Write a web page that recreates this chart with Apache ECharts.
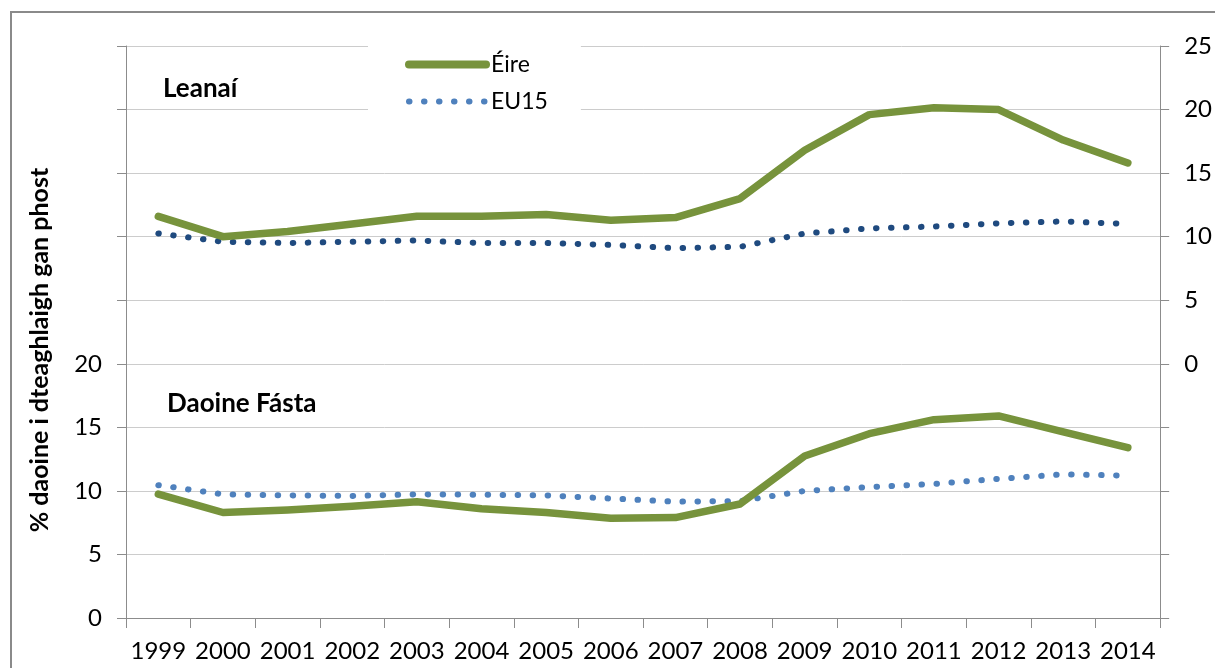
<!DOCTYPE html>
<html>
<head>
<meta charset="utf-8">
<script src="https://cdn.jsdelivr.net/npm/echarts@6/dist/echarts.min.js"></script>
<style>
  html, body { margin: 0; padding: 0; background: #fff; }
  #chart { width: 1215px; height: 668px; }
</style>
</head>
<body>
<div id="chart"></div>
<script>
// years on the shared x axis
const years = ['1999', '2000', '2001', '2002', '2003', '2004', '2005', '2006',
  '2007', '2008', '2009', '2010', '2011', '2012', '2013', '2014'];

// Leanaí panel (read against the right axis)
const leanaiEire = [11.6, 10.0, 10.4, 11.0, 11.6, 11.6, 11.75, 11.3,
  11.5, 13.0, 16.8, 19.6, 20.15, 20.0, 17.6, 15.8];
const leanaiEU15 = [10.25, 9.6, 9.5, 9.6, 9.7, 9.5, 9.5, 9.35,
  9.1, 9.2, 10.25, 10.65, 10.8, 11.05, 11.2, 11.0];

// Daoine Fásta panel (read against the left axis)
const daoineEire = [9.75, 8.3, 8.5, 8.8, 9.15, 8.6, 8.3, 7.85,
  7.9, 8.97, 12.75, 14.5, 15.6, 15.9, 14.65, 13.4];
const daoineEU15 = [10.45, 9.73, 9.65, 9.6, 9.73, 9.7, 9.65, 9.4,
  9.15, 9.2, 10.0, 10.3, 10.55, 10.95, 11.3, 11.2];

const FONT = 'Lato';
const GREEN = '#77933c';
const NAVY = '#1f4a7f';
const LIGHT_BLUE = '#4f81bd';
const AXIS_GREY = '#8c8c8c';

const chart = echarts.init(document.getElementById('chart'));

const dotted = color => ({ color: color, width: 6, type: [0.5, 14.5], cap: 'round' });
const solid = { color: GREEN, width: 7.5, cap: 'round', join: 'round' };

chart.setOption({
  animation: false,
  textStyle: { fontFamily: FONT },
  grid: { left: 126, right: 51, top: 46, bottom: 50 },
  title: [
    { text: 'Leanaí', left: 158, top: 71,
      textStyle: { fontFamily: FONT, fontSize: 26, fontWeight: 'bold', color: '#000' } },
    { text: 'Daoine Fásta', left: 162, top: 386,
      textStyle: { fontFamily: FONT, fontSize: 26, fontWeight: 'bold', color: '#000' } }
  ],
  legend: {
    orient: 'vertical',
    left: 368,
    top: 40,
    padding: [13, 33, 11, 37],
    backgroundColor: '#fff',
    itemWidth: 77,
    itemHeight: 22,
    itemGap: 14,
    itemStyle: { opacity: 0 },
    textStyle: { fontFamily: FONT, fontSize: 23, lineHeight: 22, color: '#000' },
    data: [
      { name: 'Éire', lineStyle: { color: GREEN, width: 8, cap: 'round' } },
      { name: 'EU15', lineStyle: { color: LIGHT_BLUE, width: 6, type: [0.5, 14.5], cap: 'round' } }
    ]
  },
  graphic: [
    { type: 'rect', shape: { x: 11, y: 12, width: 1400, height: 900 },
      style: { fill: 'none', stroke: '#8a8a8a', lineWidth: 2 }, silent: true },
    { type: 'text', x: 40, y: 350, rotation: Math.PI / 2,
      style: { text: '% daoine i dteaghlaigh gan phost', fontFamily: FONT,
        fontSize: 25, fontWeight: 'bold', fill: '#000', align: 'center', verticalAlign: 'middle' } }
  ],
  xAxis: {
    type: 'category',
    data: years,
    boundaryGap: true,
    axisLine: { lineStyle: { color: AXIS_GREY, width: 1 } },
    axisTick: { show: true, length: 10, lineStyle: { color: AXIS_GREY } },
    axisLabel: { interval: 0, margin: 21, fontSize: 24, color: '#000', fontFamily: FONT },
    splitLine: { show: false }
  },
  yAxis: [
    {
      type: 'value', position: 'left', min: 0, max: 45, interval: 5,
      axisLine: { show: true, lineStyle: { color: AXIS_GREY } },
      axisTick: { show: true, length: 9, lineStyle: { color: AXIS_GREY } },
      axisLabel: { margin: 24, fontSize: 24, color: '#000', fontFamily: FONT,
        formatter: v => (v <= 20 ? String(v) : '') },
      splitLine: { show: true, lineStyle: { color: '#cccccc', width: 1 } }
    },
    {
      type: 'value', position: 'right', min: -20, max: 25, interval: 5,
      axisLine: { show: true, lineStyle: { color: AXIS_GREY } },
      axisTick: { show: true, length: 9, lineStyle: { color: AXIS_GREY } },
      axisLabel: { margin: 24, fontSize: 24, color: '#000', fontFamily: FONT,
        formatter: v => (v >= 0 ? String(v) : '') },
      splitLine: { show: false }
    }
  ],
  series: [
    { name: 'Éire', type: 'line', yAxisIndex: 0, data: daoineEire,
      symbol: 'none', lineStyle: solid, itemStyle: { color: GREEN }, z: 3 },
    { name: 'EU15', type: 'line', yAxisIndex: 0, data: daoineEU15,
      symbol: 'none', lineStyle: dotted(LIGHT_BLUE), itemStyle: { color: LIGHT_BLUE }, z: 2 },
    { name: 'Éire', type: 'line', yAxisIndex: 1, data: leanaiEire,
      symbol: 'none', lineStyle: solid, itemStyle: { color: GREEN }, z: 3 },
    { name: 'EU15', type: 'line', yAxisIndex: 1, data: leanaiEU15,
      symbol: 'none', lineStyle: dotted(NAVY), itemStyle: { color: NAVY }, z: 2 }
  ]
});
</script>
</body>
</html>
